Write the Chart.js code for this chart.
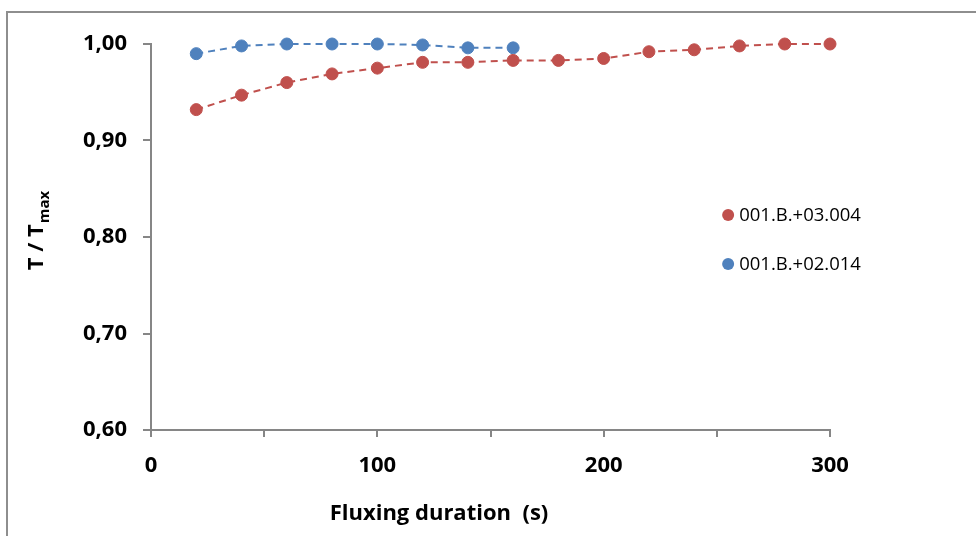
<!DOCTYPE html>
<html>
<head>
<meta charset="utf-8">
<script src="https://cdn.jsdelivr.net/npm/chart.js@4.4.1/dist/chart.umd.min.js"></script>
<style>
  html, body { margin: 0; padding: 0; background: #fff; }
  #wrap { position: relative; width: 976px; height: 536px; overflow: hidden; }
  #frame { position: absolute; left: 6px; top: 11px; width: 1000px; height: 600px;
           border-left: 2px solid #8e8e8e; border-top: 2px solid #8e8e8e; }
  canvas { position: absolute; left: 0; top: 0; }
</style>
</head>
<body>
<div id="wrap">
  <div id="frame"></div>
  <canvas id="myChart" width="976" height="536"></canvas>
</div>
<script>
// fluxing time (s) and T/Tmax
const timeRed = [20, 40, 60, 80, 100, 120, 140, 160, 180, 200, 220, 240, 260, 280, 300];
const ratioRed = [0.932, 0.947, 0.960, 0.969, 0.975, 0.981, 0.981, 0.983, 0.983, 0.985, 0.992, 0.994, 0.998, 1.000, 1.000];
const timeBlue = [20, 40, 60, 80, 100, 120, 140, 160];
const ratioBlue = [0.990, 0.998, 1.000, 1.000, 1.000, 0.999, 0.996, 0.996];
const seriesNames = ['001.B.+03.004', '001.B.+02.014'];
const seriesColors = ['#C0504D', '#4F81BD'];
const yTitle = 'T / T';
const ySub = 'max';
const xTitle = 'Fluxing duration  (s)';

const fontFam = '"Open Sans", "Liberation Sans", sans-serif';
const axisGray = '#868686';

function toPoints(xs, ys) {
  return xs.map((x, i) => ({ x: x, y: ys[i] }));
}

function makeSet(i, pts) {
  return {
    label: seriesNames[i],
    data: pts,
    borderColor: seriesColors[i],
    backgroundColor: seriesColors[i],
    pointBackgroundColor: seriesColors[i],
    pointBorderColor: seriesColors[i],
    pointRadius: 6,
    pointBorderWidth: 1,
    borderWidth: 2,
    borderDash: [7, 5],
    tension: 0,
    clip: false
  };
}

// draws axis titles and the legend inside the plot, like the original
const extrasPlugin = {
  id: 'extras',
  afterDraw(chart) {
    const ctx = chart.ctx;
    const area = chart.chartArea;
    ctx.save();
    ctx.fillStyle = '#000';

    // y title with subscript
    ctx.translate(43, 231);
    ctx.rotate(-Math.PI / 2);
    ctx.font = 'bold 22px ' + fontFam;
    ctx.textBaseline = 'alphabetic';
    ctx.textAlign = 'left';
    const mainW = ctx.measureText(yTitle).width;
    ctx.font = 'bold 15px ' + fontFam;
    const subW = ctx.measureText(ySub).width;
    const startX = -(mainW + subW) / 2;
    ctx.font = 'bold 22px ' + fontFam;
    ctx.fillText(yTitle, startX, 0);
    ctx.font = 'bold 15px ' + fontFam;
    ctx.fillText(ySub, startX + mainW + 1, 6);
    ctx.setTransform(1, 0, 0, 1, 0, 0);

    // x title
    ctx.font = 'bold 22px ' + fontFam;
    ctx.textAlign = 'center';
    ctx.textBaseline = 'middle';
    ctx.fillText(xTitle, 439, 514);

    // legend
    const lx = area.left + (area.right - area.left) * 0.85;
    let ly = 215;
    ctx.textAlign = 'left';
    ctx.font = '18.5px ' + fontFam;
    chart.data.datasets.forEach((ds) => {
      ctx.fillStyle = ds.backgroundColor;
      ctx.beginPath();
      ctx.arc(lx, ly, 6, 0, Math.PI * 2);
      ctx.fill();
      ctx.fillStyle = '#000';
      ctx.fillText(ds.label, lx + 11, ly + 1);
      ly += 49;
    });
    ctx.restore();
  }
};

const ctx = document.getElementById('myChart').getContext('2d');
const chart = new Chart(ctx, {
  type: 'line',
  data: {
    datasets: [
      makeSet(0, toPoints(timeRed, ratioRed)),
      makeSet(1, toPoints(timeBlue, ratioBlue))
    ]
  },
  options: {
    responsive: false,
    animation: false,
    layout: { padding: { left: 0, top: 44, right: 146, bottom: 0 } },
    plugins: {
      legend: { display: false },
      tooltip: { enabled: false }
    },
    scales: {
      x: {
        type: 'linear',
        min: 0,
        max: 300,
        afterFit: (scale) => { scale.height = 106; },
        ticks: {
          stepSize: 50,
          padding: 16,
          color: '#000',
          maxRotation: 0,
          autoSkip: false,
          font: { family: fontFam, size: 22, weight: 'bold' },
          callback: (v) => (v % 100 === 0 ? String(v) : '')
        },
        grid: { drawOnChartArea: false, drawTicks: true, tickLength: 7, color: axisGray, lineWidth: 2 },
        border: { display: true, color: axisGray, width: 2 }
      },
      y: {
        type: 'linear',
        min: 0.6,
        max: 1.0,
        afterFit: (scale) => { scale.width = 151; },
        ticks: {
          stepSize: 0.1,
          padding: 16,
          color: '#000',
          font: { family: fontFam, size: 22, weight: 'bold' },
          callback: (v) => v.toFixed(2).replace('.', ',')
        },
        grid: { drawOnChartArea: false, drawTicks: true, tickLength: 8, color: axisGray, lineWidth: 2 },
        border: { display: true, color: axisGray, width: 2 }
      }
    }
  },
  plugins: [extrasPlugin]
});
</script>
</body>
</html>
